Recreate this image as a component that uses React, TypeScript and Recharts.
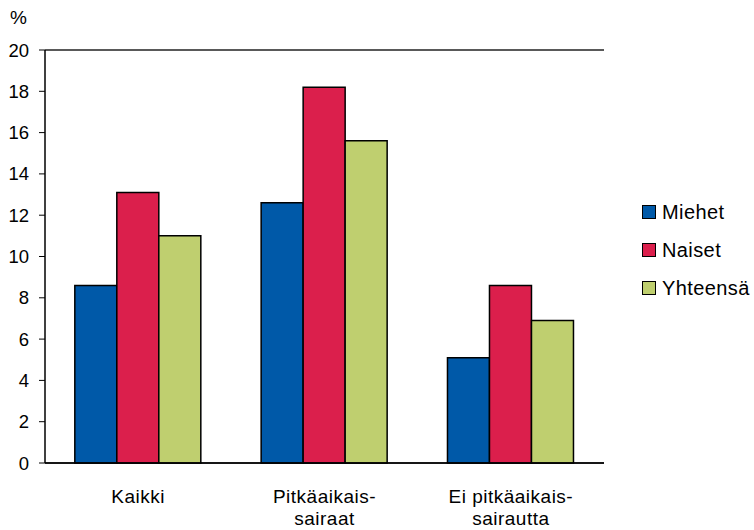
import React from 'react';
import { BarChart, Bar, XAxis, YAxis, CartesianGrid } from 'recharts';

const categories = ['Kaikki', 'Pitkäaikais-\nsairaat', 'Ei pitkäaikais-\nsairautta'];
const miehet = [8.6, 12.6, 5.1];
const naiset = [13.1, 18.2, 8.6];
const yhteensa = [11.0, 15.6, 6.9];
const yTicks = [0, 2, 4, 6, 8, 10, 12, 14, 16, 18, 20];

const series = [
  { key: 'miehet', name: 'Miehet', color: '#0059A8' },
  { key: 'naiset', name: 'Naiset', color: '#DB1F4C' },
  { key: 'yhteensa', name: 'Yhteensä', color: '#BFCF6F' },
];

const data = categories.map((name, i) => ({
  name,
  miehet: miehet[i],
  naiset: naiset[i],
  yhteensa: yhteensa[i],
}));

const font = '"Liberation Sans", Arial, sans-serif';

const CategoryTick = ({ x, y, payload }: any) => {
  const lines = String(payload.value).split('\n');
  return (
    <text x={x} y={y} textAnchor="middle" fontFamily={font} fontSize={19} fill="#000" letterSpacing={0.5}>
      {lines.map((line, i) => (
        <tspan key={i} x={x} y={y + 40 + i * 22}>
          {line}
        </tspan>
      ))}
    </text>
  );
};

export default function App() {
  return (
    <div style={{ position: 'absolute', left: 0, top: 0, width: 754, height: 530, background: '#fff', fontFamily: font }}>
      <BarChart
        width={754}
        height={530}
        data={data}
        margin={{ top: 50, right: 150, bottom: 0, left: 0 }}
        barCategoryGap="16%"
        barGap={0}
      >
        <CartesianGrid vertical={false} stroke="#222" strokeWidth={1.3} />
        <XAxis
          dataKey="name"
          height={67}
          interval={0}
          tickLine={false}
          tickSize={0}
          tickMargin={0}
          axisLine={{ stroke: '#000', strokeWidth: 1.5 }}
          tick={<CategoryTick />}
        />
        <YAxis
          yAxisId="left"
          width={45}
          domain={[0, 20]}
          ticks={yTicks}
          interval={0}
          tickSize={6}
          tickMargin={10}
          axisLine={{ stroke: '#000', strokeWidth: 1.5 }}
          tickLine={{ stroke: '#000' }}
          tick={{ fontFamily: font, fontSize: 18.5, fill: '#000' }}
        />
        <YAxis
          yAxisId="right"
          orientation="right"
          width={0}
          domain={[0, 20]}
          tick={false}
          tickLine={false}
          axisLine={{ stroke: '#000', strokeWidth: 1.3 }}
        />
        {series.map((s) => (
          <Bar
            key={s.key}
            yAxisId="left"
            dataKey={s.key}
            name={s.name}
            fill={s.color}
            stroke="#000"
            strokeWidth={1.5}
            isAnimationActive={false}
          />
        ))}
      </BarChart>
      <div style={{ position: 'absolute', left: 10, top: 7, fontSize: 19 }}>%</div>
      <div style={{ position: 'absolute', left: 642, top: 193 }}>
        {series.map((s) => (
          <div key={s.key} style={{ display: 'flex', alignItems: 'center', height: 38, fontSize: 20, letterSpacing: 0.4 }}>
            <span
              style={{
                display: 'inline-block',
                width: 12,
                height: 12,
                background: s.color,
                border: '1.5px solid #000',
                marginRight: 6,
              }}
            />
            <span>{s.name}</span>
          </div>
        ))}
      </div>
    </div>
  );
}
